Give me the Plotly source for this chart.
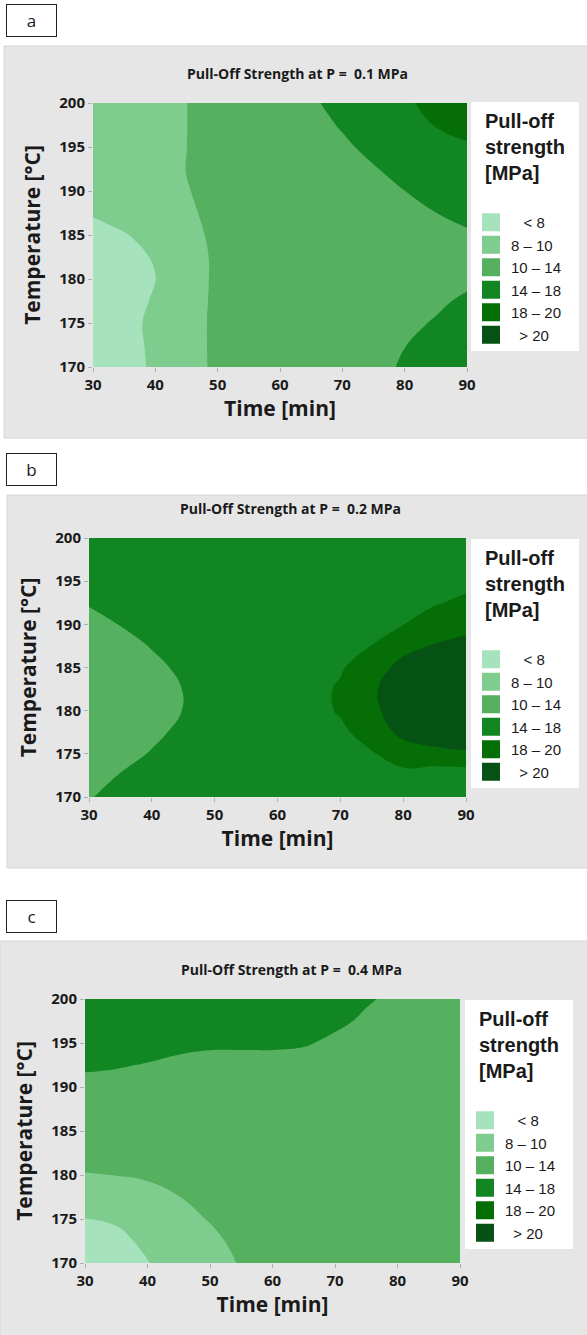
import plotly.graph_objects as go

# ---------------- data ----------------
time_min = [30, 35, 40, 45, 50, 55, 60, 65, 70, 75, 80, 85, 90]
temp_c = [170, 172.5, 175, 177.5, 180, 182.5, 185, 187.5, 190, 192.5, 195, 197.5, 200]

# Panel a (P = 0.1 MPa): rows by temperature, values across time
z_a_rows = [
    [6.2, 7.25, 8.31, 9.41, 10.29, 10.94, 11.58, 12.22, 12.86, 13.5, 14.2, 15.1, 16.0],
    [6.3, 7.32, 8.37, 9.44, 10.29, 10.91, 11.52, 12.13, 12.74, 13.35, 13.96, 14.63, 15.3],
    [6.4, 7.4, 8.42, 9.47, 10.28, 10.83, 11.38, 11.93, 12.48, 13.03, 13.58, 14.15, 14.8],
    [6.5, 7.31, 8.18, 9.43, 10.26, 10.75, 11.24, 11.73, 12.21, 12.7, 13.19, 13.68, 14.3],
    [6.7, 7.34, 7.97, 9.39, 10.24, 10.66, 11.08, 11.5, 11.92, 12.34, 12.76, 13.18, 13.6],
    [7.1, 7.57, 8.11, 9.46, 10.22, 10.6, 10.97, 11.34, 11.71, 12.08, 12.46, 12.83, 13.3],
    [7.6, 7.89, 8.61, 9.62, 10.27, 10.69, 11.12, 11.55, 11.98, 12.41, 12.84, 13.27, 13.7],
    [8.1, 8.67, 9.23, 9.8, 10.34, 10.86, 11.38, 11.91, 12.43, 12.95, 13.48, 13.98, 14.6],
    [8.5, 8.97, 9.45, 9.92, 10.49, 11.07, 11.66, 12.24, 12.82, 13.41, 13.99, 14.74, 15.5],
    [8.8, 9.2, 9.61, 10.02, 10.65, 11.29, 11.93, 12.57, 13.21, 13.85, 14.69, 15.59, 16.5],
    [9.0, 9.33, 9.67, 9.99, 10.73, 11.45, 12.18, 12.91, 13.64, 14.53, 15.59, 16.64, 17.7],
    [9.2, 9.46, 9.72, 9.98, 10.78, 11.62, 12.45, 13.28, 14.19, 15.55, 16.91, 18.13, 18.8],
    [9.4, 9.59, 9.78, 9.98, 10.83, 11.77, 12.7, 13.64, 14.86, 16.25, 17.64, 18.68, 19.6],
]

# Panel b (P = 0.2 MPa): columns by time, values across temperature
z_b_cols = [
    [13.98, 13.6, 13.1, 12.7, 12.5, 12.5, 12.7, 13.1, 13.6, 14.1, 14.4, 14.3, 14.2],
    [14.1, 14.05, 13.6, 13.2, 13.0, 13.0, 13.2, 13.6, 14.04, 14.4, 14.5, 14.35, 14.2],
    [14.2, 14.3, 14.08, 13.75, 13.6, 13.6, 13.75, 14.06, 14.4, 14.6, 14.55, 14.4, 14.25],
    [14.25, 14.45, 14.5, 14.25, 14.02, 14.02, 14.2, 14.55, 14.65, 14.7, 14.6, 14.45, 14.3],
    [14.3, 14.6, 14.8, 14.9, 14.9, 14.9, 14.9, 14.9, 14.9, 14.8, 14.7, 14.5, 14.3],
    [14.4, 14.8, 15.1, 15.4, 15.6, 15.6, 15.5, 15.4, 15.2, 15.0, 14.8, 14.5, 14.2],
    [14.5, 14.9, 15.4, 15.9, 16.2, 16.3, 16.1, 15.8, 15.5, 15.2, 14.9, 14.5, 14.05],
    [14.6, 15.1, 15.8, 16.5, 17.0, 17.1, 16.8, 16.3, 15.9, 15.5, 15.2, 14.9, 14.5],
    [14.7, 15.3, 16.3, 17.5, 18.25, 18.3, 17.75, 16.9, 16.3, 15.8, 15.4, 15.0, 14.6],
    [14.8, 15.9, 17.8, 19.1, 19.7, 19.8, 19.4, 18.05, 17.0, 16.4, 15.9, 15.3, 14.7],
    [14.9, 17.3, 19.2, 20.4, 20.7, 20.8, 20.4, 19.6, 17.95, 17.0, 16.3, 15.6, 14.9],
    [15.0, 16.8, 19.6, 20.8, 21.0, 21.1, 20.8, 20.1, 19.2, 17.8, 16.8, 15.9, 15.0],
    [15.0, 16.9, 19.8, 21.0, 21.5, 21.6, 21.2, 20.5, 19.5, 18.5, 17.4, 16.4, 15.4],
]

# Panel c (P = 0.4 MPa): columns by time, values across temperature
z_c_cols = [
    [6.3, 7.1, 7.98, 8.95, 9.9, 10.8, 11.6, 12.5, 13.4, 14.3, 15.1, 15.8, 16.5],
    [6.6, 7.4, 8.28, 9.1, 10.03, 10.9, 11.7, 12.5, 13.3, 14.15, 15.0, 15.7, 16.4],
    [7.95, 8.5, 9.05, 9.6, 10.15, 10.9, 11.6, 12.3, 13.0, 13.9, 14.75, 15.5, 16.2],
    [8.6, 9.0, 9.45, 9.98, 10.55, 11.1, 11.7, 12.3, 12.9, 13.6, 14.45, 15.2, 15.9],
    [9.2, 9.6, 10.1, 10.45, 10.9, 11.35, 11.8, 12.3, 12.8, 13.4, 14.3, 15.0, 15.6],
    [10.15, 10.45, 10.75, 11.05, 11.35, 11.7, 12.05, 12.45, 12.85, 13.35, 14.3, 14.9, 15.4],
    [10.6, 10.9, 11.15, 11.45, 11.75, 12.05, 12.35, 12.7, 13.05, 13.45, 14.25, 14.8, 15.2],
    [11.0, 11.25, 11.5, 11.75, 12.0, 12.3, 12.6, 12.9, 13.2, 13.55, 14.1, 14.6, 15.0],
    [11.3, 11.5, 11.7, 11.95, 12.2, 12.45, 12.7, 12.95, 13.2, 13.5, 13.8, 14.2, 14.6],
    [11.5, 11.7, 11.9, 12.1, 12.3, 12.5, 12.75, 13.0, 13.2, 13.45, 13.65, 13.85, 14.1],
    [11.6, 11.8, 12.0, 12.2, 12.4, 12.55, 12.75, 12.95, 13.1, 13.3, 13.45, 13.6, 13.8],
    [11.7, 11.85, 12.0, 12.2, 12.35, 12.5, 12.65, 12.8, 12.95, 13.1, 13.25, 13.4, 13.5],
    [11.7, 11.85, 12.0, 12.1, 12.25, 12.4, 12.5, 12.65, 12.8, 12.9, 13.05, 13.15, 13.3],
]

NB = "\u00a0"
level_labels = [NB * 3 + "< 8", "8 \u2013 10" + NB * 5, "10 \u2013 14", "14 \u2013 18", "18 \u2013 20", NB * 2 + "> 20"]
level_colors = ["#a6e2bc", "#7fcc8f", "#55b05f", "#118623", "#066e06", "#065214"]
panel_titles = ["Pull-Off Strength at P =  0.1 MPa",
                "Pull-Off Strength at P =  0.2 MPa",
                "Pull-Off Strength at P =  0.4 MPa"]
panel_letters = ["a", "b", "c"]
x_ticks = [30, 40, 50, 60, 70, 80, 90]
y_ticks = [170, 175, 180, 185, 190, 195, 200]

# ---------------- build ----------------
W, H = 587, 1335

z_b_rows = [list(r) for r in zip(*z_b_cols)]
z_c_rows = [list(r) for r in zip(*z_c_cols)]
panels_z = [z_a_rows, z_b_rows, z_c_rows]

c = level_colors
colorscale = [[0, c[0]], [1/7, c[1]], [2/7, c[2]], [3/7, c[2]],
              [4/7, c[3]], [5/7, c[3]], [6/7, c[4]], [1, c[5]]]

# layout geometry in pixels (left, right, top, bottom)
plot_px = [(93, 467, 103, 367), (89, 466, 538, 797), (85, 460, 999, 1263)]
legend_px = [(471, 102), (471, 539), (465, 1000)]
bg_px = [(4, 600, 46, 438), (7, 600, 495, 868), (0, 600, 941, 1345)]
letter_px = [(31.5, 20.5), (31.5, 470), (31.5, 916)]
title_px = [(298, 73), (290, 509), (291, 969)]

def px_x(v):
    return v / W

def px_y(v):
    return 1 - v / H

fig = go.Figure()
layout = dict(width=W, height=H, margin=dict(l=0, r=0, t=0, b=0, autoexpand=False),
              paper_bgcolor="white", plot_bgcolor="white", showlegend=True,
              shapes=[], annotations=[])

tick_font = dict(family="Open Sans", size=15, color="#1a1a1a", weight="bold")
title_font = dict(family="Open Sans", size=21, color="#1a1a1a", weight="bold")

for i in range(3):
    sfx = "" if i == 0 else str(i + 1)
    xa, ya = "x" + sfx, "y" + sfx
    lg = "legend" + sfx
    fig.add_trace(go.Contour(
        x=time_min, y=temp_c, z=panels_z[i],
        xaxis=xa, yaxis=ya,
        autocontour=False,
        contours=dict(start=8, end=20, size=2, coloring="fill", showlines=False),
        colorscale=colorscale, showscale=False,
        line=dict(width=0, smoothing=1.3),
        showlegend=False, hoverinfo="skip",
    ))
    for lab, col in zip(level_labels, level_colors):
        fig.add_trace(go.Scatter(
            x=[None], y=[None], mode="markers", name=lab,
            marker=dict(symbol="square", size=16, color=col, line=dict(color=col, width=2)),
            xaxis=xa, yaxis=ya, legend=lg, showlegend=True, hoverinfo="skip",
        ))
    l, r, t, b = plot_px[i]
    layout["xaxis" + sfx] = dict(
        domain=[px_x(l), px_x(r)], anchor=ya, range=[30, 90], tickvals=x_ticks,
        ticks="outside", ticklen=4, tickcolor="#b0b0b0", showgrid=False, zeroline=False,
        showline=False, tickfont=tick_font,
        title=dict(text="Time [min]", font=title_font, standoff=6))
    layout["yaxis" + sfx] = dict(
        domain=[px_y(b), px_y(t)], anchor=xa, range=[170, 200], tickvals=y_ticks,
        ticks="outside", ticklen=4, tickcolor="#b0b0b0", showgrid=False, zeroline=False,
        showline=False, tickfont=tick_font,
        title=dict(text="Temperature [\u00b0C]", font=title_font, standoff=12))
    lx, ly = legend_px[i]
    layout[lg] = dict(
        x=px_x(lx), y=px_y(ly), xanchor="left", yanchor="top",
        bgcolor="white", borderwidth=0, traceorder="normal", itemclick=False,
        font=dict(family="Liberation Sans", size=15, color="#1a1a1a"),
        title=dict(text="<b>Pull-off<br>strength<br>[MPa]</b><br> ", side="top center",
                   font=dict(family="Liberation Sans", size=20, color="#1a1a1a")),
        itemwidth=30, tracegroupgap=0)
    x0, x1, y0, y1 = bg_px[i]
    layout["shapes"].append(dict(
        type="rect", xref="paper", yref="paper", layer="below",
        x0=px_x(x0), x1=px_x(x1), y0=px_y(y1), y1=px_y(y0),
        fillcolor="#e6e6e6", line=dict(color="#d6d6d6", width=1)))
    cx, cy = letter_px[i]
    layout["annotations"].append(dict(
        text=panel_letters[i], xref="paper", yref="paper", x=px_x(cx), y=px_y(cy),
        xanchor="center", yanchor="middle", showarrow=False,
        width=47, height=29, bordercolor="#222222", borderwidth=1, borderpad=1,
        bgcolor="white", font=dict(family="Open Sans", size=17, color="#1a1a1a")))
    tx, ty = title_px[i]
    layout["annotations"].append(dict(
        text=panel_titles[i], xref="paper", yref="paper", x=px_x(tx), y=px_y(ty),
        xanchor="center", yanchor="middle", showarrow=False,
        font=dict(family="Open Sans", size=14, color="#1a1a1a", weight="bold")))

fig.update_layout(**layout)
fig.write_html("out.html")
